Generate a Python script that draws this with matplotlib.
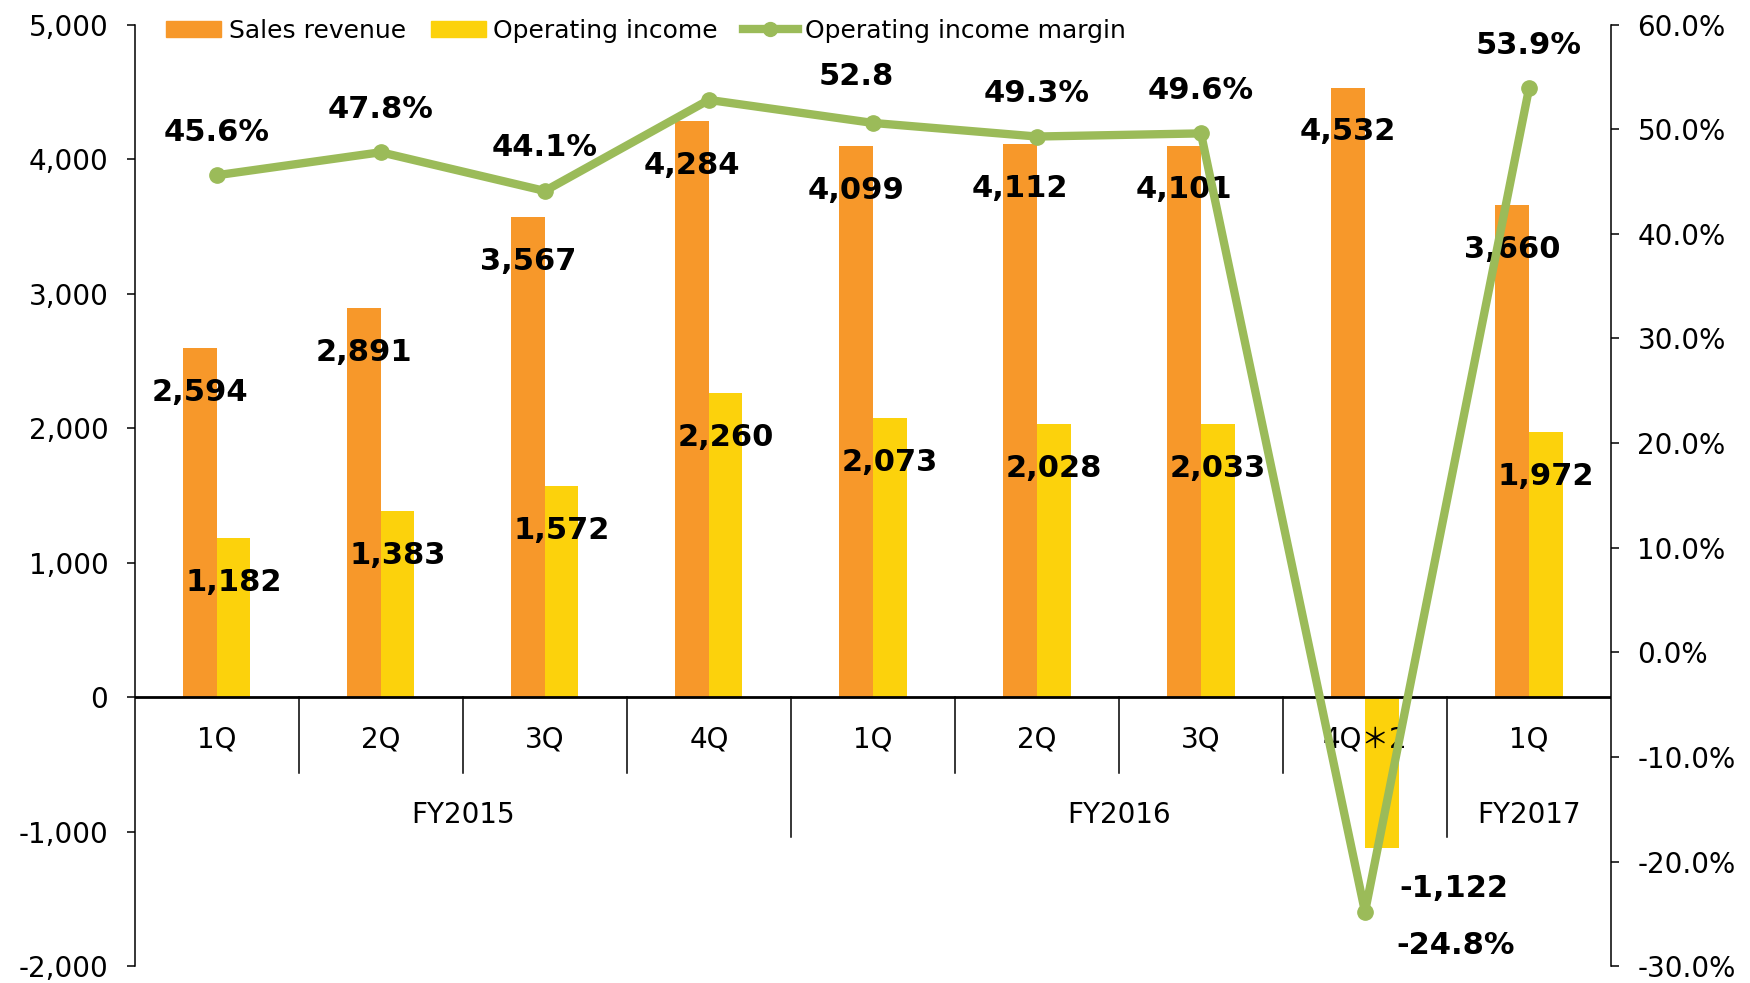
import numpy as np
import matplotlib.pyplot as plt
from matplotlib.lines import Line2D
from matplotlib.patches import Patch

# Quarterly results
quarters = ['1Q', '2Q', '3Q', '4Q', '1Q', '2Q', '3Q', '4Q＊2', '1Q']
fiscal_years = ['FY2015', 'FY2016', 'FY2017']
fy_spans = [(0, 3), (4, 7), (8, 8)]
sales = [2594, 2891, 3567, 4284, 4099, 4112, 4101, 4532, 3660]
op_income = [1182, 1383, 1572, 2260, 2073, 2028, 2033, -1122, 1972]
margin = [45.6, 47.8, 44.1, 52.8, 50.6, 49.3, 49.6, -24.8, 53.9]
margin_labels = ['45.6%', '47.8%', '44.1%', '52.8', None, '49.3%', '49.6%', '-24.8%', '53.9%']

C_SALES = '#F7982A'
C_INCOME = '#FCD20C'
C_MARGIN = '#9BBB59'

plt.rcParams['font.family'] = ['DejaVu Sans', 'Noto Sans CJK JP']

fig = plt.figure(figsize=(17.5, 9.83), dpi=100)
ax = fig.add_axes([0.077, 0.017, 0.8436, 0.958])
ax2 = ax.twinx()

x = np.arange(len(quarters))
w = 0.205
ax.bar(x - w / 2, sales, w, color=C_SALES, zorder=2)
ax.bar(x + w / 2, op_income, w, color=C_INCOME, zorder=2)

ax.set_xlim(-0.5, len(quarters) - 0.5)
ax.set_ylim(-2000, 5000)
ax.set_yticks(range(-2000, 5001, 1000))
ax.set_yticklabels([f'{v:,}' for v in range(-2000, 5001, 1000)])
ax.set_xticks([])

ax2.set_ylim(-30, 60)
ax2.set_yticks(range(-30, 61, 10))
ax2.set_yticklabels([f'{v:.1f}%' for v in range(-30, 61, 10)])

for a in (ax, ax2):
    for s in ('top', 'bottom'):
        a.spines[s].set_visible(False)
    a.tick_params(axis='y', direction='out', length=6, width=1.1, labelsize=20, pad=13)
ax.spines['right'].set_visible(False)
ax.spines['left'].set_linewidth(1.1)
ax2.spines['left'].set_visible(False)
ax2.spines['right'].set_linewidth(1.1)

# zero line and category separators
ax.axhline(0, color='black', lw=2, zorder=3)
for k in range(1, len(quarters)):
    bottom = -1040 if k in (4, 8) else -560
    ax.plot([k - 0.5, k - 0.5], [0, bottom], color='black', lw=1.1, zorder=3, clip_on=False)
for i, q in enumerate(quarters):
    ax.text(i, -313, q, ha='center', va='center', fontsize=20, zorder=3)
for fy, (a, b) in zip(fiscal_years, fy_spans):
    ax.text((a + b) / 2, -874, fy, ha='center', va='center', fontsize=20, zorder=3)

# margin line on the right axis
ax2.plot(x, margin, color=C_MARGIN, lw=6, marker='o', markersize=11, zorder=4)

bold = dict(fontsize=22, fontweight='bold', ha='center', va='center', zorder=6)
for i, v in enumerate(sales):
    ax.annotate(f'{v:,}', (x[i] - w / 2, v), xytext=(0, -32), textcoords='offset points', **bold)
for i, v in enumerate(op_income):
    if v < 0:
        ax.annotate(f'{v:,}', (x[i] + w / 2, v), xytext=(52, -29), textcoords='offset points', **bold)
    else:
        ax.annotate(f'{v:,}', (x[i] + w / 2, v), xytext=(0, -32), textcoords='offset points', **bold)
for i, (v, lab) in enumerate(zip(margin, margin_labels)):
    if lab is None:
        continue
    if v < 0:
        off = (65, -24)
    elif i == 3:
        off = (106, 17)
    else:
        off = (0, 31)
    ax2.annotate(lab, (x[i], v), xytext=off, textcoords='offset points', **bold)

handles = [Patch(color=C_SALES, label='Sales revenue'),
           Patch(color=C_INCOME, label='Operating income'),
           Line2D([], [], color=C_MARGIN, lw=6, marker='o', markersize=10,
                  label='Operating income margin')]
leg = ax2.legend(handles=handles, loc='upper left', bbox_to_anchor=(0.006, 1.03), ncol=3,
                 frameon=False, fontsize=18, handlelength=2.2, handleheight=0.6,
                 handletextpad=0.3, columnspacing=1.0)
leg.set_zorder(7)

fig.savefig('out.png', dpi=100)
